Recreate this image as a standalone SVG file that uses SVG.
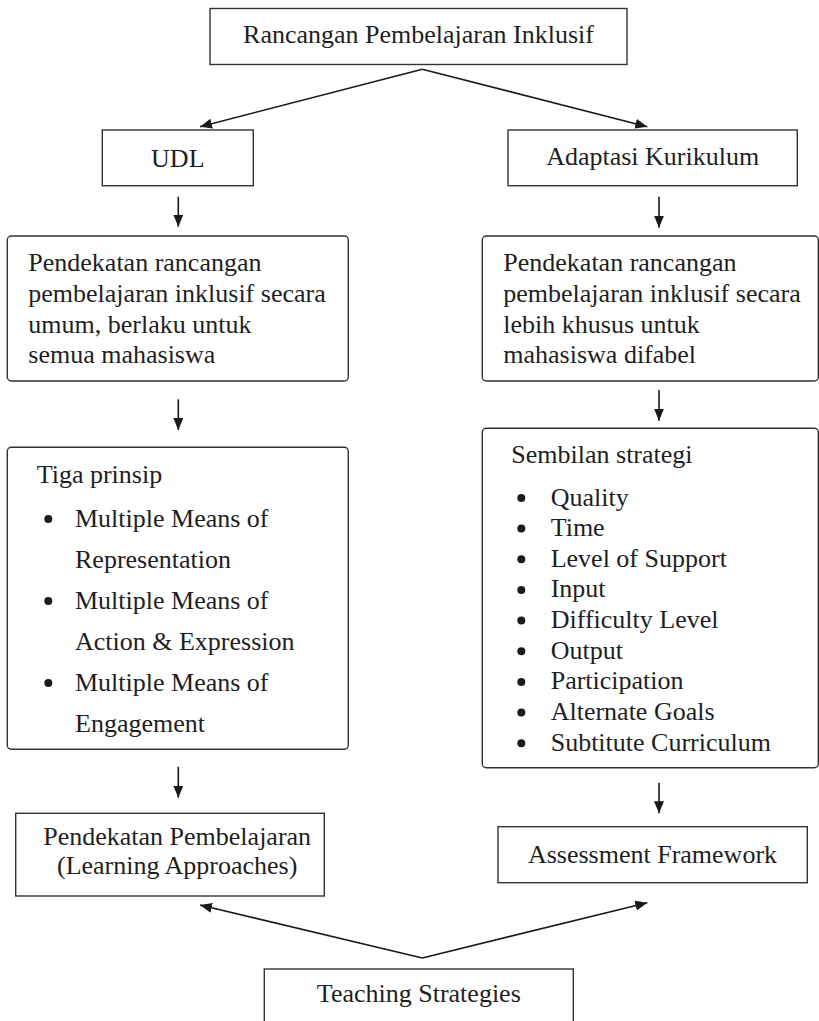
<svg xmlns="http://www.w3.org/2000/svg" width="819" height="1021" viewBox="0 0 819 1021">
  <style>
    .box { fill: #ffffff; stroke: #333333; stroke-width: 1.4; }
    .t { font-family: "Liberation Serif", "Times New Roman", serif; font-size: 26px; fill: #1e1e1e; }
    .c { text-anchor: middle; }
    .conn { stroke: #1a1a1a; stroke-width: 1.6; fill: none; }
    .dot { fill: #1a1a1a; }
  </style>
  <defs>
    <marker id="ah" markerUnits="userSpaceOnUse" markerWidth="13" markerHeight="11" refX="12" refY="5" orient="auto">
      <path d="M0,0 L12,5 L0,10 Z" fill="#1a1a1a"/>
    </marker>
  </defs>
  <rect width="819" height="1021" fill="#ffffff"/>

  <g id="connectors">
    <line class="conn" x1="422.3" y1="69.3" x2="200" y2="126.7" marker-end="url(#ah)"/>
    <line class="conn" x1="422.3" y1="69.3" x2="647.3" y2="126.7" marker-end="url(#ah)"/>
    <line class="conn" x1="178.3" y1="196.7" x2="178.3" y2="226.7" marker-end="url(#ah)"/>
    <line class="conn" x1="659" y1="196.7" x2="659" y2="227.7" marker-end="url(#ah)"/>
    <line class="conn" x1="178.3" y1="399.3" x2="178.3" y2="430" marker-end="url(#ah)"/>
    <line class="conn" x1="659" y1="390" x2="659" y2="420.7" marker-end="url(#ah)"/>
    <line class="conn" x1="178.3" y1="766.7" x2="178.3" y2="797.7" marker-end="url(#ah)"/>
    <line class="conn" x1="659" y1="782.7" x2="659" y2="813.3" marker-end="url(#ah)"/>
    <line class="conn" x1="422.3" y1="958" x2="200" y2="905" marker-end="url(#ah)"/>
    <line class="conn" x1="422.3" y1="958" x2="647.3" y2="902.7" marker-end="url(#ah)"/>
  </g>

  <g id="node-rancangan">
    <rect class="box" x="210" y="8.5" width="417" height="56"/>
    <text class="t c" x="418.5" y="42.7">Rancangan Pembelajaran Inklusif</text>
  </g>

  <g id="node-udl">
    <rect class="box" x="102.3" y="130" width="151" height="55.7"/>
    <text class="t c" x="177.8" y="166.7">UDL</text>
  </g>

  <g id="node-adaptasi">
    <rect class="box" x="508" y="130" width="289.3" height="55.7"/>
    <text class="t c" x="652.7" y="164.5">Adaptasi Kurikulum</text>
  </g>

  <g id="node-udl-desc">
    <rect class="box" x="7.3" y="236" width="341" height="145" rx="4" ry="4"/>
    <text class="t" x="28.3" y="270.7">Pendekatan rancangan</text>
    <text class="t" x="28.3" y="301.7">pembelajaran inklusif secara</text>
    <text class="t" x="28.3" y="332.7">umum, berlaku untuk</text>
    <text class="t" x="28.3" y="362.7">semua mahasiswa</text>
  </g>

  <g id="node-adaptasi-desc">
    <rect class="box" x="482.3" y="236" width="336" height="145" rx="4" ry="4"/>
    <text class="t" x="503.3" y="270.7">Pendekatan rancangan</text>
    <text class="t" x="503.3" y="301.7">pembelajaran inklusif secara</text>
    <text class="t" x="503.3" y="332.7">lebih khusus untuk</text>
    <text class="t" x="503.3" y="362.7">mahasiswa difabel</text>
  </g>

  <g id="node-tiga-prinsip">
    <rect class="box" x="7.3" y="447.3" width="341" height="302" rx="4" ry="4"/>
    <text class="t" x="36.7" y="483.3">Tiga prinsip</text>
    <circle class="dot" cx="48.3" cy="519" r="4"/>
    <text class="t" x="75" y="527">Multiple Means of</text>
    <text class="t" x="75" y="568">Representation</text>
    <circle class="dot" cx="48.3" cy="601" r="4"/>
    <text class="t" x="75" y="609">Multiple Means of</text>
    <text class="t" x="75" y="650">Action &amp; Expression</text>
    <circle class="dot" cx="48.3" cy="683" r="4"/>
    <text class="t" x="75" y="691">Multiple Means of</text>
    <text class="t" x="75" y="732">Engagement</text>
  </g>

  <g id="node-sembilan-strategi">
    <rect class="box" x="482.3" y="428.3" width="336" height="339.4" rx="4" ry="4"/>
    <text class="t" x="511.3" y="463.3">Sembilan strategi</text>
    <circle class="dot" cx="521.3" cy="498" r="4"/>
    <text class="t" x="550.7" y="505.5">Quality</text>
    <circle class="dot" cx="521.3" cy="528.6" r="4"/>
    <text class="t" x="550.7" y="536.1">Time</text>
    <circle class="dot" cx="521.3" cy="559.3" r="4"/>
    <text class="t" x="550.7" y="566.8">Level of Support</text>
    <circle class="dot" cx="521.3" cy="589.9" r="4"/>
    <text class="t" x="550.7" y="597.4">Input</text>
    <circle class="dot" cx="521.3" cy="620.6" r="4"/>
    <text class="t" x="550.7" y="628.1">Difficulty Level</text>
    <circle class="dot" cx="521.3" cy="651.2" r="4"/>
    <text class="t" x="550.7" y="658.7">Output</text>
    <circle class="dot" cx="521.3" cy="681.9" r="4"/>
    <text class="t" x="550.7" y="689.4">Participation</text>
    <circle class="dot" cx="521.3" cy="712.5" r="4"/>
    <text class="t" x="550.7" y="720">Alternate Goals</text>
    <circle class="dot" cx="521.3" cy="743.2" r="4"/>
    <text class="t" x="550.7" y="750.7">Subtitute Curriculum</text>
  </g>

  <g id="node-pendekatan-pembelajaran">
    <rect class="box" x="15.7" y="813.3" width="308.6" height="82.7"/>
    <text class="t c" x="177.2" y="845">Pendekatan Pembelajaran</text>
    <text class="t c" x="177.2" y="874">(Learning Approaches)</text>
  </g>

  <g id="node-assessment">
    <rect class="box" x="498" y="826.7" width="309.3" height="56"/>
    <text class="t c" x="652.5" y="862.7">Assessment Framework</text>
  </g>

  <g id="node-teaching">
    <rect class="box" x="264.3" y="969" width="309" height="70"/>
    <text class="t c" x="418.8" y="1001.7">Teaching Strategies</text>
  </g>
</svg>
